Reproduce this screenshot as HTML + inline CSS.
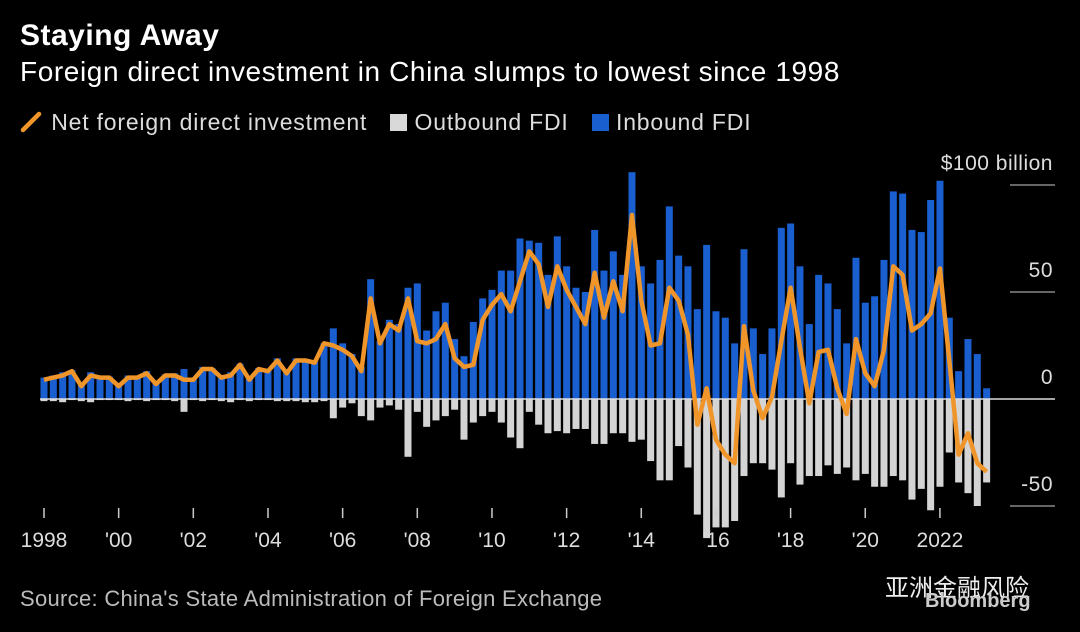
<!DOCTYPE html>
<html><head><meta charset="utf-8"><style>
body{margin:0;background:#000;width:1080px;height:632px;overflow:hidden;font-family:"Liberation Sans","Noto Sans CJK SC",sans-serif;color:#fff}
.t{position:absolute;white-space:nowrap}
</style></head><body>
<div class="t" style="left:20px;top:19px;font-size:30px;font-weight:bold;letter-spacing:0.5px">Staying Away</div>
<div class="t" style="left:20px;top:56px;font-size:28px;letter-spacing:0.6px">Foreign direct investment in China slumps to lowest since 1998</div>
<div class="t" style="left:20px;top:109px;font-size:23px;letter-spacing:0.8px;color:#ddd">
<span><svg width="24" height="22" style="vertical-align:-3px"><line x1="3" y1="19" x2="19" y2="3" stroke="#f0952a" stroke-width="4.5" stroke-linecap="round"/></svg> Net foreign direct investment</span>
<span style="margin-left:16px"><span style="display:inline-block;width:17px;height:17px;background:#d9d9d9;vertical-align:-1px"></span> Outbound FDI</span>
<span style="margin-left:16px"><span style="display:inline-block;width:17px;height:17px;background:#1a5fd0;vertical-align:-1px"></span> Inbound FDI</span>
</div>
<svg id="c" width="1080" height="632" style="position:absolute;left:0;top:0"></svg>
<div class="t" style="left:20px;top:586px;font-size:22px;letter-spacing:0.3px;color:#bbb">Source: China's State Administration of Foreign Exchange</div>
<div class="t" style="left:885px;top:568px;font-size:24px;color:#eee">亚洲金融风险</div>
<div class="t" style="left:925px;top:590px;font-size:20px;font-weight:bold;color:#ccc">Bloomberg</div>
<script>
const netA=[9,10,11,13,6,11,10,10,6,10,10,12,7,11,11,9,9,14,14,10,11,16,9,14,13,18,12,18,
18,17,26,25,23,20,13,47,26,35,32,47,27,26,28,35,19,15,16,37,44,49,41,55,69,63,43,62,51,43,35,59,38,55,41,86,
46,25,26,52,46,30,-12,5,-19,-26,-30,34,4,-9,1,27,52,24,-2,22,23,5,-7,28,12,6,23,62,58,32,35,40,61,18,-26,-16,-30,-34];
const outA=[-1,-1,-1.5,-0.5,-1,-1.5,-0.5,-0.5,-0.5,-1,-0.5,-1,-0.5,-0.5,-1,-6,-0.5,-1,-0.5,-1,-1.5,-0.5,-1,-0.5,-0.5,-1,-1,-1,
-1.5,-1.5,-1,-9,-4,-2,-8,-10,-4,-3,-5,-27,-6,-13,-10,-8,-5,-19,-11,-8,-6,-11,-18,-23,-6,-12,-16,-15,-16,-14,-14,-21,-21,-16,-16,-20,
-19,-29,-38,-38,-22,-32,-54,-65,-60,-60,-57,-36,-30,-30,-33,-46,-30,-40,-36,-36,-31,-35,-32,-38,-35,-41,-41,-36,-38,-47,-42,-52,-41,-25,-39,-44,-50,-39];
const inA=[10,11,12.5,13.5,7,12.5,10.5,10.5,6.5,11,10.5,13,7.5,11.5,12,14,9.5,15,14.5,11,12.5,16.5,10,14.5,13.5,19,13,19,
18,18,26,33,26,21,15,56,27,37,35,52,54,32,41,45,28,20,36,47,51,60,60,75,74,73,58,76,62,52,50,79,60,69,58,106,
62,54,65,90,67,62,42,72,41,38,26,70,33,21,33,80,82,62,35,58,54,42,26,66,45,48,65,97,96,79,78,93,102,38,13,28,21,5];
const yTicks=[100,50,0,-50];
const yLabels=["$100 billion","50","0","-50"];
const xLabels=["1998","'00","'02","'04","'06","'08","'10","'12","'14","'16","'18","'20","2022"];
const xYears=[1998,2000,2002,2004,2006,2008,2010,2012,2014,2016,2018,2020,2022];
const svg=document.getElementById('c');const NS='http://www.w3.org/2000/svg';
const X=i=>44+9.333*i, XY=y=>44+(y-1998)*37.33, Y=v=>399-v*2.14;
function mk(t,a){const e=document.createElementNS(NS,t);for(const k in a)e.setAttribute(k,a[k]);svg.appendChild(e);return e;}
yTicks.forEach((v,i)=>{
 if(v!==0){const g=mk('line',{x1:1010,x2:1055,y1:Y(v),y2:Y(v),stroke:'#ccc','stroke-width':1});
 
 }
 const t=mk('text',{x:1053,y:Y(v)-15,'text-anchor':'end',fill:'#ddd','font-size':21,'letter-spacing':0.5,'font-family':'Liberation Sans'});
 t.textContent=yLabels[i];
 
 
});
inA.forEach((v,i)=>{const r=mk('rect',{x:X(i)-3.5,y:Y(v),width:7,height:Y(0)-Y(v),fill:'#1a5fd0'});
 
 });
outA.forEach((v,i)=>{const r=mk('rect',{x:X(i)-3.5,y:Y(0),width:7,height:Y(v)-Y(0),fill:'#d4d4d4'});
 
 });
const z=mk('line',{x1:40,x2:1055,y1:Y(0),y2:Y(0),stroke:'#ddd','stroke-width':1.5});


const p=mk('polyline',{points:netA.map((v,i)=>X(i)+','+Y(v)).join(' '),fill:'none',stroke:'#f0952a','stroke-width':4.5,'stroke-linejoin':'round'});


xYears.forEach((y,i)=>{
 const l=mk('line',{x1:XY(y),x2:XY(y),y1:508,y2:518,stroke:'#ccc','stroke-width':1.5});
 
 
 const t=mk('text',{x:XY(y),y:547,'text-anchor':'middle',fill:'#ddd','font-size':21,'font-family':'Liberation Sans'});
 t.textContent=xLabels[i];
 
 
});
</script>
</body></html>
